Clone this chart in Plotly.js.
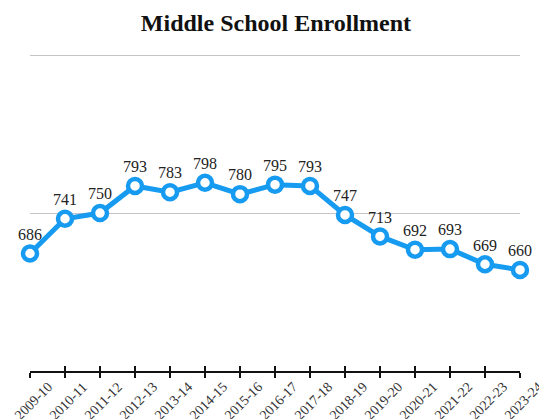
<!DOCTYPE html>
<html>
<head>
<meta charset="utf-8">
<script src="https://cdn.plot.ly/plotly-3.0.1.min.js"></script>
<style>html,body{margin:0;padding:0;background:#fff;}#chart{width:539px;height:419px;}</style>
</head>
<body>
<div id="chart"></div>
<script>
const years = ["2009-10","2010-11","2011-12","2012-13","2013-14","2014-15","2015-16","2016-17","2017-18","2018-19","2019-20","2020-21","2021-22","2022-23","2023-24"];
const enrollment = [686, 741, 750, 793, 783, 798, 780, 795, 793, 747, 713, 692, 693, 669, 660];
const titleText = "Middle School Enrollment";

const blue = "#169bf0";
const serif = "Liberation Serif, Times New Roman, serif";

const traces = [
  {
    x: years, y: enrollment, type: "scatter", mode: "lines+markers+text",
    text: enrollment.map(String), textposition: "top center",
    textfont: {family: serif, size: 16, color: "#222"},
    line: {color: blue, width: 5},
    marker: {size: 14, color: "#fff", line: {color: blue, width: 4.5}},
    cliponaxis: false, hoverinfo: "skip"
  },
  {
    x: years, y: enrollment, xaxis: "x2", type: "scatter", mode: "markers",
    marker: {opacity: 0}, hoverinfo: "skip", showlegend: false
  }
];

// rotated category labels, centred just under each tick
const labelAnnotations = years.map(y => ({
  x: y, xref: "x", y: 0, yref: "paper",
  text: y, showarrow: false, textangle: -45,
  xanchor: "center", yanchor: "middle",
  xshift: 3, yshift: -30,
  font: {family: serif, size: 14, color: "#333"}
}));

const layout = {
  width: 539, height: 419,
  margin: {l: 30, r: 19, t: 52, b: 48},
  paper_bgcolor: "#fff", plot_bgcolor: "#fff",
  showlegend: false,
  title: {text: "<b>" + titleText + "</b>", x: 0.512, xanchor: "center", y: 0.945, yanchor: "middle",
          font: {family: serif, size: 24, color: "#111"}},
  xaxis: {
    type: "category", range: [0, 14], showgrid: false, zeroline: false,
    showline: true, linecolor: "#111", linewidth: 1.5,
    ticks: "outside", ticklen: 5, tickwidth: 1.5, tickcolor: "#111",
    showticklabels: false
  },
  xaxis2: {
    type: "category", range: [0, 14], overlaying: "x", anchor: "y", side: "bottom",
    showgrid: false, zeroline: false, showline: false, showticklabels: false,
    ticks: "inside", ticklen: 5, tickwidth: 1.5, tickcolor: "#111"
  },
  yaxis: {
    range: [500, 1005], dtick: 250, tick0: 500, showticklabels: false,
    showgrid: true, gridcolor: "#c4c4c4", gridwidth: 1,
    zeroline: false, showline: false, ticks: ""
  },
  annotations: labelAnnotations
};

Plotly.newPlot("chart", traces, layout, {displayModeBar: false, staticPlot: true});
</script>
</body>
</html>
